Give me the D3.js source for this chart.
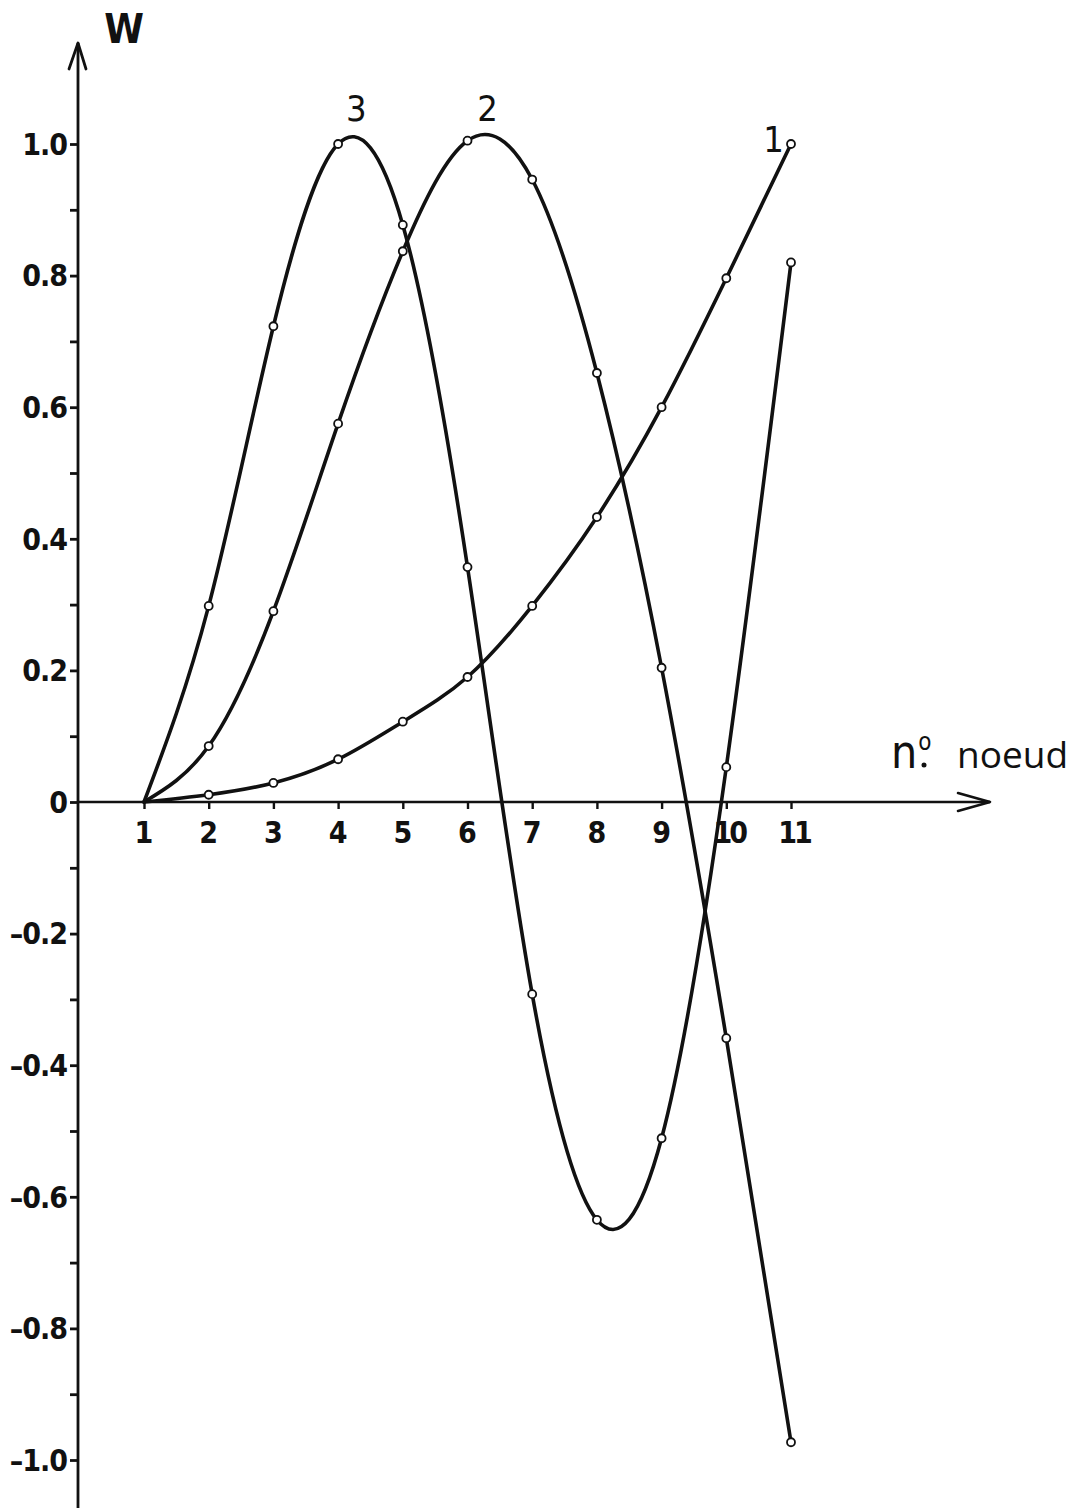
<!DOCTYPE html>
<html>
<head>
<meta charset="utf-8">
<script src="https://cdn.jsdelivr.net/npm/d3@7"></script>
<style>
  html, body { margin: 0; padding: 0; background: #fff; }
  svg { display: block; }
  .lbl { font-family: "DejaVu Sans Condensed", "Liberation Sans Narrow", "DejaVu Sans", sans-serif; fill: #111; font-weight: bold; }
</style>
</head>
<body>
<script>
// Node numbers along the beam and the three mode shapes w(node)
const nodes = [1, 2, 3, 4, 5, 6, 7, 8, 9, 10, 11];
const mode1 = [0, 0.011, 0.029, 0.065, 0.122, 0.19, 0.298, 0.433, 0.60, 0.796, 1.0];
const mode2 = [0, 0.085, 0.29, 0.575, 0.837, 1.005, 0.946, 0.652, 0.204, -0.359, -0.973];
const mode3 = [0, 0.298, 0.723, 1.0, 0.877, 0.357, -0.292, -0.635, -0.511, 0.053, 0.82];
const modeNames = ["1", "2", "3"];
const yLabelTicks = [1.0, 0.8, 0.6, 0.4, 0.2, 0, -0.2, -0.4, -0.6, -0.8, -1.0];
const xAxisTitle = "noeud";
const yAxisTitle = "W";

const W = 1079, H = 1508;
const svg = d3.select("body").append("svg").attr("width", W).attr("height", H);

const x = d3.scaleLinear().domain([1, 11]).range([144, 791]);
const y = d3.scaleLinear().domain([0, 1]).range([802, 144]);
const axisX = 78;
const ink = "#111";

// vertical axis with arrow
svg.append("line").attr("x1", axisX).attr("x2", axisX)
  .attr("y1", H).attr("y2", 43)
  .attr("stroke", ink).attr("stroke-width", 2.8);
svg.append("path").attr("d", `M${axisX - 9},69 L${axisX},43 L${axisX + 8},69`)
  .attr("fill", "none").attr("stroke", ink).attr("stroke-width", 2.8)
  .attr("stroke-linecap", "round").attr("stroke-linejoin", "round");

// horizontal axis with arrow
svg.append("line").attr("x1", axisX).attr("x2", 990)
  .attr("y1", y(0)).attr("y2", y(0))
  .attr("stroke", ink).attr("stroke-width", 2.6);
svg.append("path").attr("d", `M958,${y(0) - 9} L990,${y(0)} L958,${y(0) + 9}`)
  .attr("fill", "none").attr("stroke", ink).attr("stroke-width", 2.6)
  .attr("stroke-linecap", "round").attr("stroke-linejoin", "round");

// y ticks every 0.1 (left side), labels every 0.2
const minor = d3.range(-10, 11).map(d => d / 10);
const yAxis = d3.axisLeft(y).tickValues(minor).tickSize(8).tickFormat("");
const gy = svg.append("g").attr("transform", `translate(${axisX},0)`).call(yAxis);
gy.select(".domain").remove();
gy.selectAll(".tick line").attr("stroke", ink).attr("stroke-width", 2.8);

const fmt = v => v === 0 ? "0" : d3.format(".1f")(v).replace("−", "–");
svg.append("g").selectAll("text").data(yLabelTicks).join("text")
  .attr("class", "lbl")
  .attr("x", 67).attr("y", d => y(d))
  .attr("dy", "0.36em")
  .attr("text-anchor", "end")
  .attr("font-size", 30)
  .attr("letter-spacing", -1)
  .text(fmt);

// x ticks below the axis at each node
const xAxis = d3.axisBottom(x).tickValues(nodes).tickSize(7).tickFormat("");
const gx = svg.append("g").attr("transform", `translate(0,${y(0)})`).call(xAxis);
gx.select(".domain").remove();
gx.selectAll(".tick line").attr("stroke", ink).attr("stroke-width", 2.4);

svg.append("g").selectAll("text").data(nodes).join("text")
  .attr("class", "lbl")
  .attr("x", d => x(d) + (d >= 10 ? 3 : 0)).attr("y", 843)
  .attr("text-anchor", "middle")
  .attr("font-size", 30)
  .attr("letter-spacing", d => d >= 10 ? -3 : 0)
  .text(d => d);

// axis titles
svg.append("text").attr("class", "lbl")
  .attr("x", 124).attr("y", 43).attr("text-anchor", "middle")
  .attr("font-size", 40).text(yAxisTitle);

const nt = svg.append("text").attr("class", "lbl").attr("x", 891).attr("y", 768).attr("font-size", 46)
  .style("font-weight", "normal");
nt.append("tspan").text("n");
nt.append("tspan").attr("font-size", 24).attr("dy", -18).attr("dx", 1).text("o");
svg.append("circle").attr("cx", 924).attr("cy", 765).attr("r", 2.5).attr("fill", ink);
svg.append("text")
  .attr("x", 957).attr("y", 768)
  .attr("font-family", "'Open Sans', 'DejaVu Sans', sans-serif")
  .attr("font-size", 37).attr("fill", ink)
  .text(xAxisTitle);

// mode shapes
const series = [mode1, mode2, mode3].map((vals, i) => ({
  name: modeNames[i],
  pts: nodes.map((n, j) => ({ n, w: vals[j] }))
}));

const line = d3.line()
  .x(d => x(d.n)).y(d => y(d.w))
  .curve(d3.curveNatural);

svg.append("g").selectAll("path").data(series).join("path")
  .attr("d", d => line(d.pts))
  .attr("fill", "none").attr("stroke", ink)
  .attr("stroke-width", 3.6)
  .attr("stroke-linejoin", "round").attr("stroke-linecap", "round");

svg.append("g").selectAll("g").data(series).join("g")
  .selectAll("circle").data(d => d.pts.filter(p => p.n > 1)).join("circle")
  .attr("cx", d => x(d.n)).attr("cy", d => y(d.w))
  .attr("r", 4)
  .attr("fill", "#fff").attr("stroke", ink).attr("stroke-width", 1.8);

// mode numbers next to the curves
const labelPos = [
  { name: "1", n: 10.73, w: 0.988 },
  { name: "2", n: 6.31, w: 1.035 },
  { name: "3", n: 4.28, w: 1.035 }
];
svg.append("g").selectAll("text").data(labelPos).join("text")
  .attr("class", "lbl")
  .attr("x", d => x(d.n)).attr("y", d => y(d.w))
  .attr("text-anchor", "middle")
  .attr("font-size", 36)
  .style("font-weight", "normal")
  .text(d => d.name);
</script>
</body>
</html>
